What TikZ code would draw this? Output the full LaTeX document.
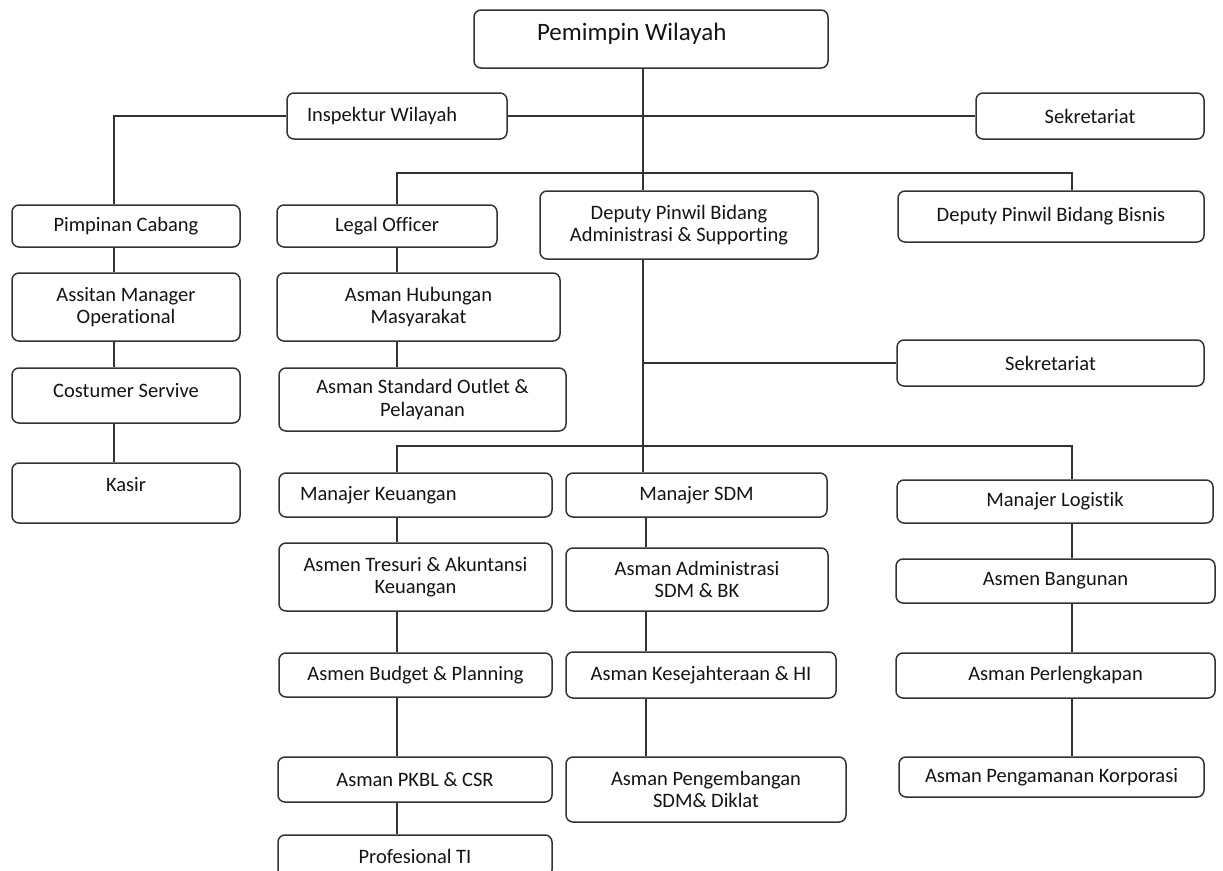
\documentclass[tikz,border=0pt]{standalone}
\usepackage{fontspec}
\setmainfont{Carlito}[Ligatures=NoCommon]
\begin{document}
\begin{tikzpicture}[x=1pt,y=-1pt,
  box/.style={draw=black!80, line width=1.5pt, rounded corners=7pt, align=center,
    font=\fontsize{20.5}{22.5}\selectfont, text=black!92, inner sep=2pt},
  sz/.style 2 args={minimum width=#1pt, minimum height=#2pt},
  leftbox/.style={align=flush left, inner xsep=#1pt},
  conn/.style={draw=black!80, line width=1.4pt}]
\clip (0,0) rectangle (1223,870);
\fill[white] (0,0) rectangle (1223,870);
% named coordinates for connector columns / rows
\coordinate (tk) at (643,0);
\coordinate (lx) at (114,116);
\coordinate (la) at (397,173);
\coordinate (lb) at (1072,173);
\coordinate (ka) at (397,446);
\coordinate (kb) at (1072,446);
\coordinate (sx) at (646,0);

% nodes
\node[box, sz={354}{58}, font=\fontsize{25}{27}\selectfont, text depth=15pt, leftbox=63, text width=228pt] (pw) at (651,39) {Pemimpin Wilayah};
\node[box, sz={220}{46}, leftbox=20, text width=180pt] (iw) at (397,116) {Inspektur Wilayah};
\node[box, sz={228}{46}] (sk1) at (1090,116) {Sekretariat};
\node[box, sz={228}{42}] (pc) at (126,226) {Pimpinan Cabang};
\node[box, sz={220}{42}] (lo) at (387,226) {Legal Officer};
\node[box, sz={278}{68}] (dpa) at (679,225) {Deputy Pinwil Bidang\\Administrasi \& Supporting};
\node[box, sz={306}{51}] (dpb) at (1051,216.5) {Deputy Pinwil Bidang Bisnis};
\node[box, sz={228}{68}] (amo) at (126,307) {Assitan Manager\\Operational};
\node[box, sz={283}{68}] (ahm) at (418.5,307) {Asman Hubungan\\Masyarakat};
\node[box, sz={228}{55}, text depth=10pt] (cs) at (126,395.5) {Costumer Servive};
\node[box, sz={287}{63}] (aso) at (422.5,399.5) {Asman Standard Outlet \&\\Pelayanan};
\node[box, sz={228}{60}, text depth=18pt] (ks) at (126,493) {Kasir};
\node[box, sz={307}{46}] (sk2) at (1050.5,363) {Sekretariat};
\node[box, sz={273}{44}, leftbox=21, text width=231pt] (mk) at (415.5,495) {Manajer Keuangan};
\node[box, sz={261}{44}] (ms) at (696.5,495) {Manajer SDM};
\node[box, sz={316}{43}] (ml) at (1055,501.5) {Manajer Logistik};
\node[box, sz={273}{68}] (at) at (415.5,577) {Asmen Tresuri \& Akuntansi\\Keuangan};
\node[box, sz={262}{63}] (aa) at (697,579.5) {Asman Administrasi\\SDM \& BK};
\node[box, sz={319}{44}] (ab) at (1055.5,581) {Asmen Bangunan};
\node[box, sz={273}{44}] (abp) at (415.5,675) {Asmen Budget \& Planning};
\node[box, sz={270}{46}] (ak) at (701,675) {Asman Kesejahteraan \& HI};
\node[box, sz={319}{45}] (ap) at (1055.5,675.5) {Asman Perlengkapan};
\node[box, sz={274}{45}] (apk) at (415,779.5) {Asman PKBL \& CSR};
\node[box, sz={280}{65}] (apg) at (706,789.5) {Asman Pengembangan\\SDM\& Diklat};
\node[box, sz={305}{40}] (apm) at (1051.5,777) {Asman Pengamanan Korporasi};
\node[box, sz={274}{42}] (pti) at (415,856) {Profesional TI};

% connectors
\draw[conn] (pw.south -| tk) -- (dpa.north -| tk);
\draw[conn] (dpa.south -| tk) -- (ms.north -| tk);
\draw[conn] (iw.east) -- (sk1.west);
\draw[conn] (iw.west) -| (pc.north -| lx);
\draw[conn] (lo.north -| la) |- (lb) -- (dpb.north -| lb);
\draw[conn] (sk2.west) -- (sk2.west -| tk);
\draw[conn] (mk.north -| ka) |- (kb) -- (ml.north -| kb);
% left column
\draw[conn] (pc.south -| lx) -- (amo.north -| lx);
\draw[conn] (amo.south -| lx) -- (cs.north -| lx);
\draw[conn] (cs.south -| lx) -- (ks.north -| lx);
% legal column
\draw[conn] (lo.south -| la) -- (ahm.north -| la);
\draw[conn] (ahm.south -| la) -- (aso.north -| la);
% keuangan column
\draw[conn] (mk.south -| ka) -- (at.north -| ka);
\draw[conn] (at.south -| ka) -- (abp.north -| ka);
\draw[conn] (abp.south -| ka) -- (apk.north -| ka);
\draw[conn] (apk.south -| ka) -- (pti.north -| ka);
% sdm column
\draw[conn] (ms.south -| sx) -- (aa.north -| sx);
\draw[conn] (aa.south -| sx) -- (ak.north -| sx);
\draw[conn] (ak.south -| sx) -- (apg.north -| sx);
% logistik column
\draw[conn] (ml.south -| kb) -- (ab.north -| kb);
\draw[conn] (ab.south -| kb) -- (ap.north -| kb);
\draw[conn] (ap.south -| kb) -- (apm.north -| kb);
\end{tikzpicture}
\end{document}
